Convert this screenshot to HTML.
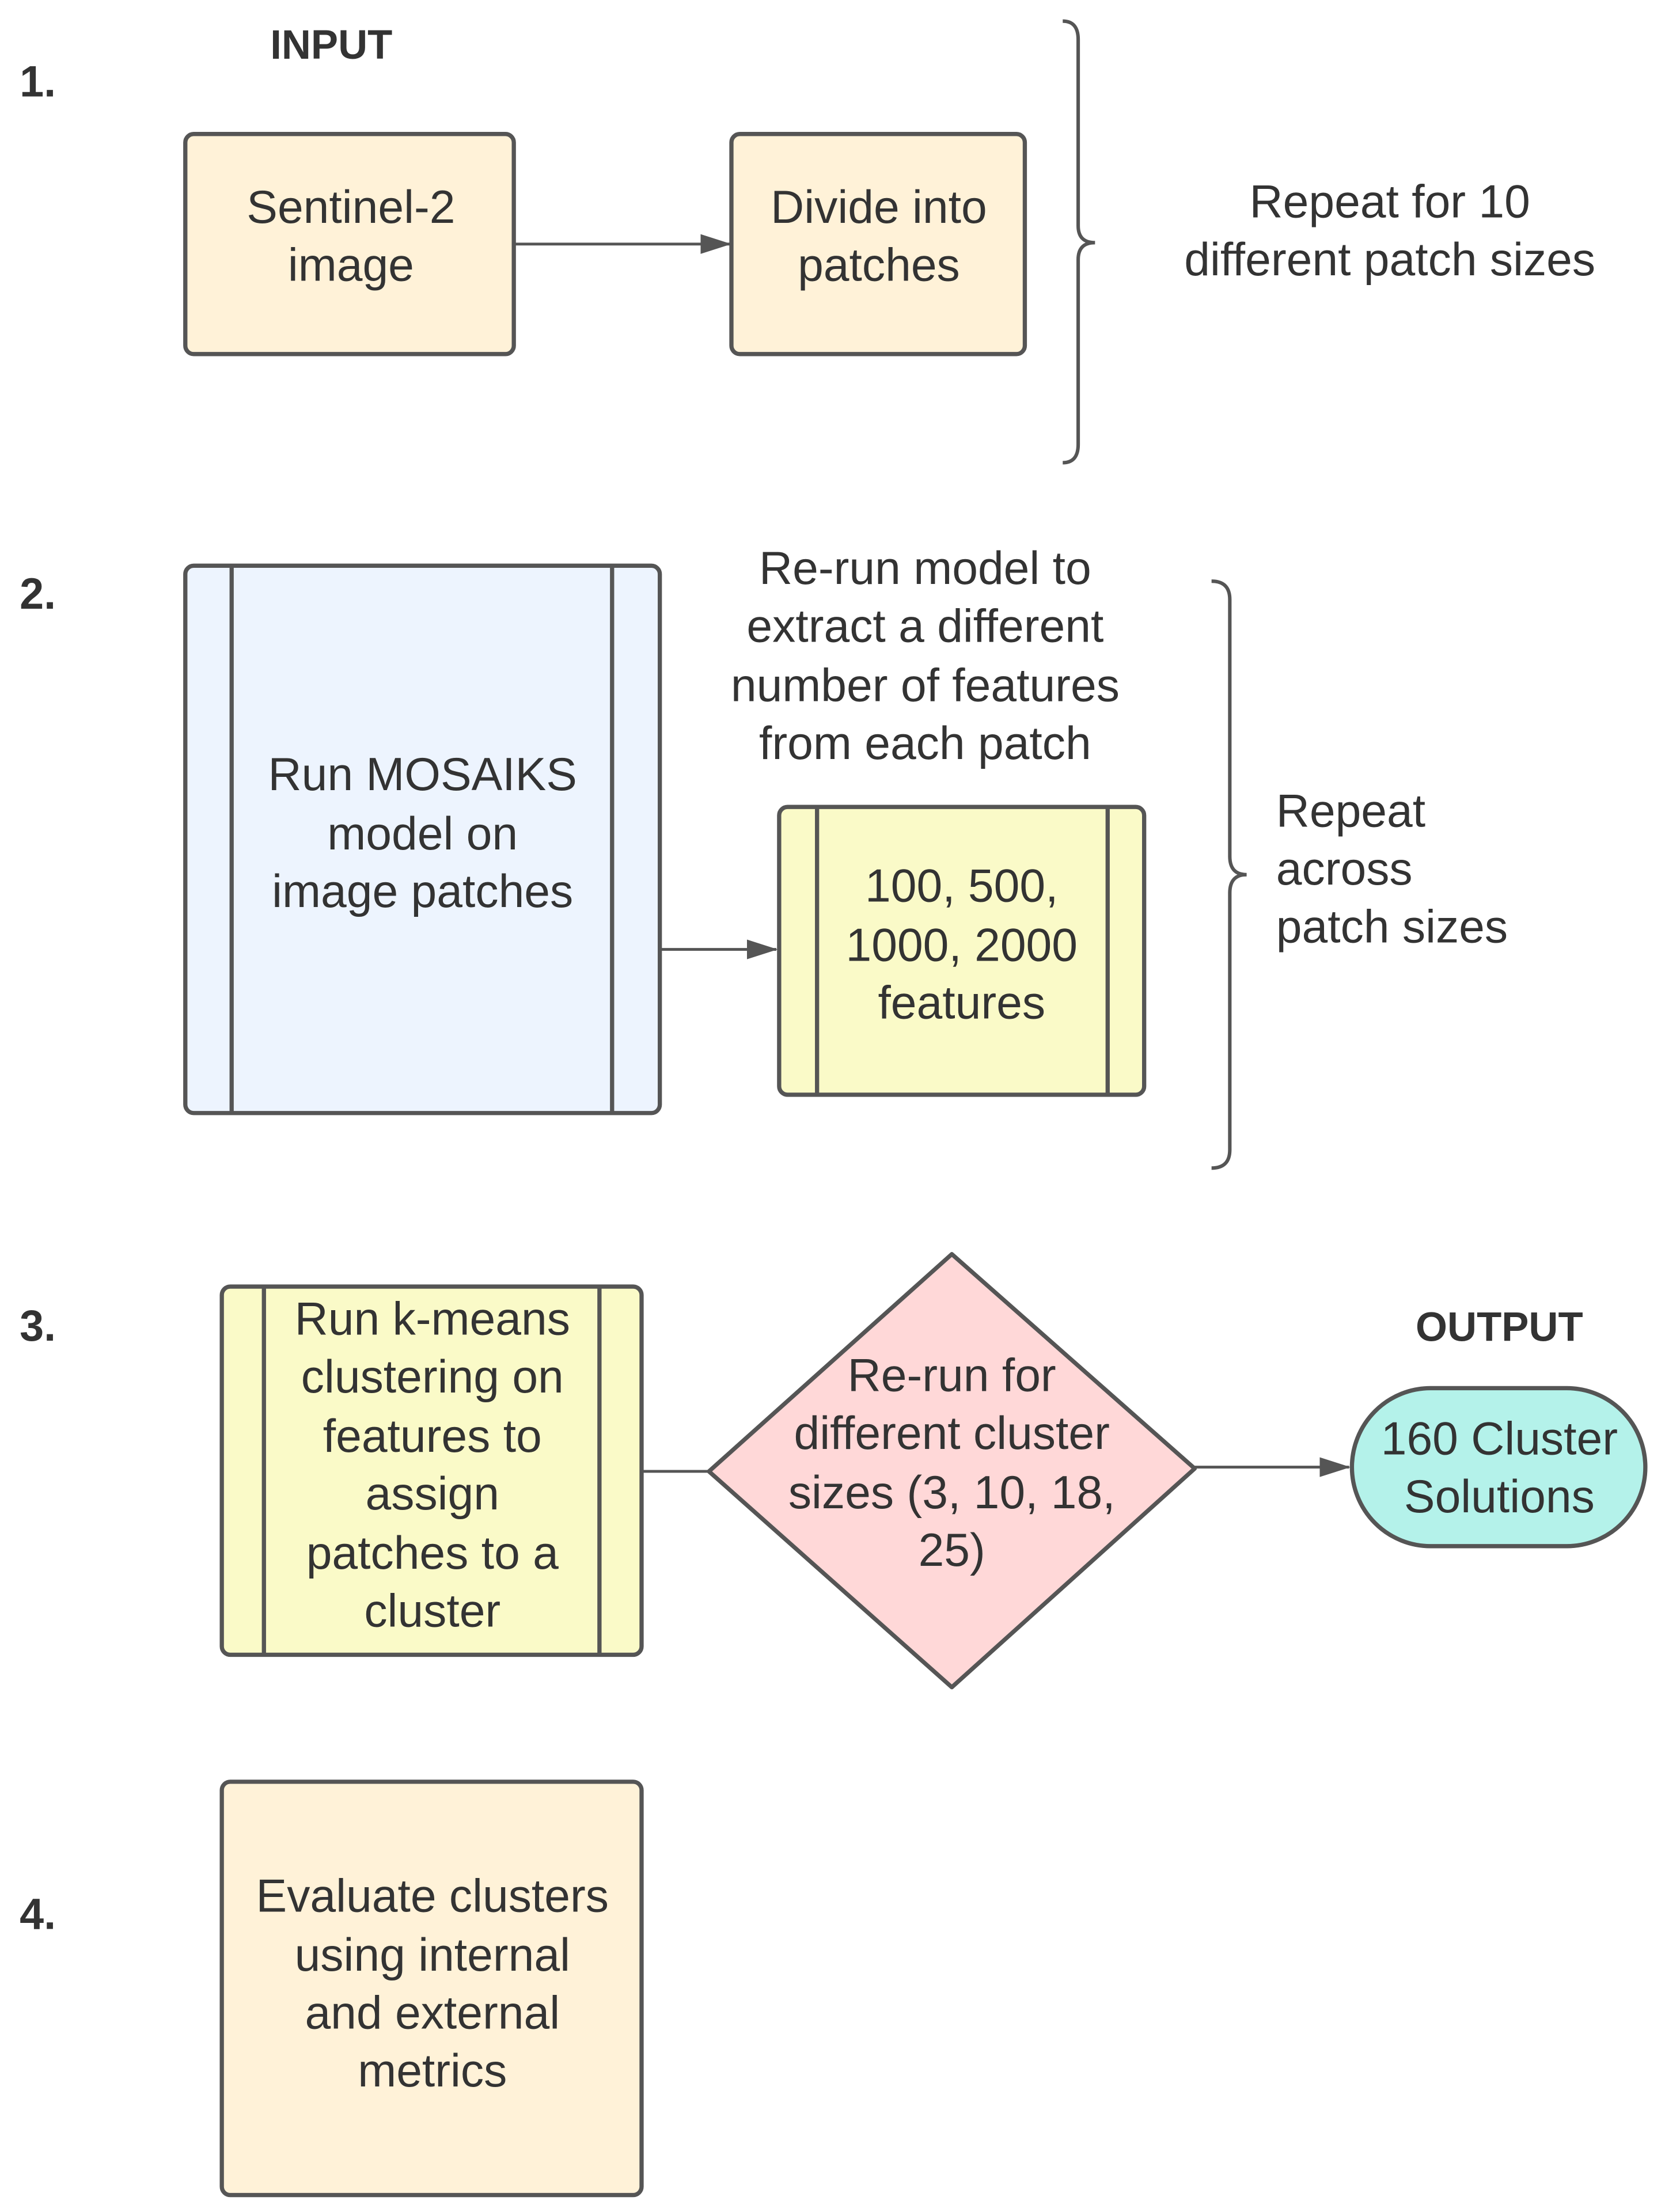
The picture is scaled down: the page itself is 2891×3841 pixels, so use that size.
<!DOCTYPE html>
<html><head><meta charset="utf-8"><style>
html,body{margin:0;padding:0;background:#fff;}
svg{display:block;}
text{font-family:"Liberation Sans",sans-serif;fill:#333;}
</style></head><body>
<svg width="2891" height="3841" viewBox="0 0 1186 1568" preserveAspectRatio="none" xmlns="http://www.w3.org/2000/svg">
<defs>
<marker id="a2" markerWidth="22" markerHeight="14" refX="21" refY="7" orient="auto" markerUnits="userSpaceOnUse"><path d="M0,0 L22,7 L0,14 z" fill="#555"/></marker></defs>
<g stroke="#555" stroke-width="3">
<rect x="132" y="95" width="234" height="156" rx="6" fill="#fff2d8"/>
<rect x="521" y="95" width="209" height="156" rx="6" fill="#fff2d8"/>
<rect x="132" y="401" width="338" height="388" rx="6" fill="#edf4fe"/>
<line x1="165" y1="401" x2="165" y2="789"/><line x1="436" y1="401" x2="436" y2="789"/>
<rect x="555" y="572" width="260" height="204" rx="6" fill="#fafac8"/>
<line x1="582" y1="572" x2="582" y2="776"/><line x1="789" y1="572" x2="789" y2="776"/>
<rect x="158" y="912" width="299" height="261" rx="6" fill="#fafac8"/>
<line x1="188" y1="912" x2="188" y2="1173"/><line x1="427" y1="912" x2="427" y2="1173"/>
<path d="M678,889 L851,1041 L678,1196 L505,1043 Z" fill="#ffd8d8" stroke-linejoin="round"/>
<rect x="963" y="984" width="209" height="112" rx="56" fill="#b4f2ea"/>
<rect x="158" y="1263" width="299" height="293" rx="6" fill="#fff2d8"/>
</g>
<g stroke="#555" stroke-width="2" fill="none">
<line x1="366" y1="173" x2="520" y2="173" marker-end="url(#a2)"/>
<line x1="471" y1="673" x2="553" y2="673" marker-end="url(#a2)"/>
<line x1="457" y1="1043" x2="505" y2="1043"/>
<line x1="851" y1="1040" x2="961" y2="1040" marker-end="url(#a2)"/>
<path d="M757,15 Q768,15 768,28 L768,160 Q768,172 780,172 Q768,172 768,184 L768,315 Q768,328 757,328" stroke-width="2.5"/>
<path d="M863,412 Q876,412 876,425 L876,607 Q876,620 888,620 Q876,620 876,633 L876,815 Q876,828 863,828" stroke-width="2.5"/>
</g>
<g font-size="33" text-anchor="middle" dominant-baseline="central">
<text x="250" y="147">Sentinel-2</text><text x="250" y="188">image</text>
<text x="626" y="147">Divide into</text><text x="626" y="188">patches</text>
<text x="990" y="143">Repeat for 10</text><text x="990" y="184">different patch sizes</text>
<text x="301" y="549">Run MOSAIKS</text><text x="301" y="591">model on</text><text x="301" y="632">image patches</text>
<text x="659" y="403">Re-run model to</text><text x="659" y="444">extract a different</text><text x="659" y="486">number of features</text><text x="659" y="527">from each patch</text>
<text x="685" y="628">100, 500,</text><text x="685" y="670">1000, 2000</text><text x="685" y="711">features</text>
<text x="308" y="935">Run k-means</text><text x="308" y="976">clustering on</text><text x="308" y="1018">features to</text><text x="308" y="1059">assign</text><text x="308" y="1101">patches to a</text><text x="308" y="1142">cluster</text>
<text x="678" y="975">Re-run for</text><text x="678" y="1016">different cluster</text><text x="678" y="1058">sizes (3, 10, 18,</text><text x="678" y="1099">25)</text>
<text x="1068" y="1020">160 Cluster</text><text x="1068" y="1061">Solutions</text>
<text x="308" y="1344">Evaluate clusters</text><text x="308" y="1386">using internal</text><text x="308" y="1427">and external</text><text x="308" y="1468">metrics</text>
</g>
<g font-size="33" dominant-baseline="central">
<text x="909" y="575">Repeat</text><text x="909" y="616">across</text><text x="909" y="657">patch sizes</text>
</g>
<g font-weight="bold" dominant-baseline="central">
<text x="14" y="58" font-size="31">1.</text>
<text x="14" y="421" font-size="31">2.</text>
<text x="14" y="940" font-size="31">3.</text>
<text x="14" y="1357" font-size="31">4.</text>
<text x="236" y="32" font-size="29" text-anchor="middle">INPUT</text>
<text x="1068" y="941" font-size="29" text-anchor="middle">OUTPUT</text>
</g>
</svg>
</body></html>
